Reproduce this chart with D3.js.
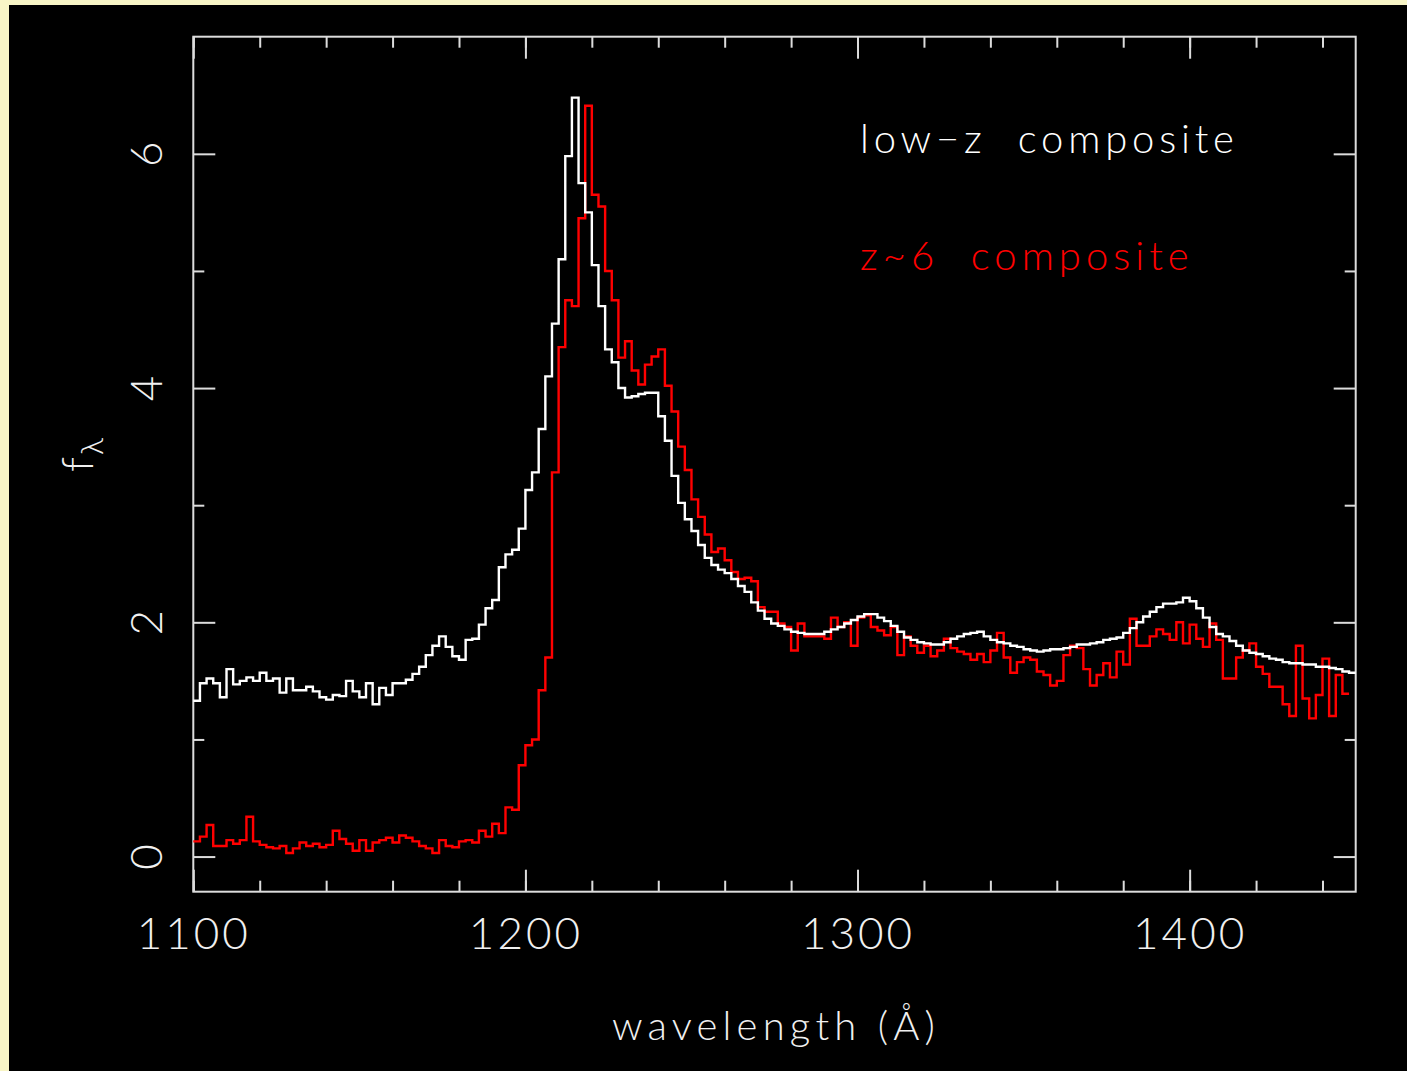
<!DOCTYPE html>
<html>
<head>
<meta charset="utf-8">
<script src="https://cdn.jsdelivr.net/npm/d3@7"></script>
<style>
  html, body { margin: 0; padding: 0; background: #f8f5c6; }
  svg { display: block; }
  text { font-family: "Lato", "DejaVu Sans", sans-serif; font-weight: 300; }
</style>
</head>
<body>
<svg id="chart" width="1407" height="1071"></svg>
<script>
// Spectra binned at 2 Å, first bin starting at 1100 Å
const waveStart = 1100;
const binWidth = 2;

// Low-redshift quasar composite (f_lambda)
const lowzFlux = [
  1.33, 1.48, 1.52, 1.48, 1.36, 1.60, 1.47, 1.50, 1.53, 1.50,
  1.57, 1.50, 1.52, 1.40, 1.52, 1.42, 1.42, 1.45, 1.41, 1.36,
  1.34, 1.38, 1.37, 1.50, 1.41, 1.36, 1.48, 1.30, 1.44, 1.38,
  1.48, 1.48, 1.51, 1.56, 1.62, 1.72, 1.80, 1.88, 1.79, 1.71,
  1.68, 1.85, 1.86, 1.98, 2.12, 2.19, 2.47, 2.58, 2.62, 2.80,
  3.13, 3.28, 3.65, 4.10, 4.55, 5.10, 5.98, 6.48, 5.75, 5.50,
  5.05, 4.70, 4.33, 4.22, 4.00, 3.92, 3.93, 3.95, 3.96, 3.96,
  3.76, 3.55, 3.25, 3.02, 2.88, 2.78, 2.66, 2.55, 2.49, 2.45,
  2.42, 2.37, 2.31, 2.26, 2.17, 2.10, 2.03, 1.99, 1.97, 1.94,
  1.92, 1.91, 1.90, 1.90, 1.90, 1.92, 1.94, 1.96, 1.99, 2.02,
  2.05, 2.07, 2.07, 2.04, 2.01, 1.97, 1.92, 1.87, 1.85, 1.83,
  1.82, 1.81, 1.81, 1.83, 1.86, 1.88, 1.90, 1.91, 1.92, 1.88,
  1.85, 1.83, 1.82, 1.80, 1.79, 1.77, 1.76, 1.75, 1.76, 1.77,
  1.77, 1.78, 1.79, 1.81, 1.81, 1.82, 1.83, 1.85, 1.86, 1.87,
  1.91, 1.95, 2.00, 2.05, 2.09, 2.13, 2.16, 2.16, 2.17, 2.21,
  2.18, 2.12, 2.04, 1.96, 1.90, 1.88, 1.84, 1.80, 1.76, 1.74,
  1.73, 1.71, 1.69, 1.68, 1.66, 1.65, 1.65, 1.64, 1.64, 1.62,
  1.62, 1.61, 1.60, 1.58, 1.57
];

// z~6 quasar composite (f_lambda)
const z6Flux = [
  0.13, 0.17, 0.27, 0.09, 0.09, 0.14, 0.11, 0.14, 0.34, 0.13,
  0.10, 0.08, 0.07, 0.09, 0.03, 0.07, 0.12, 0.09, 0.11, 0.08,
  0.10, 0.22, 0.15, 0.11, 0.05, 0.14, 0.05, 0.12, 0.14, 0.16,
  0.12, 0.18, 0.16, 0.13, 0.09, 0.07, 0.03, 0.14, 0.09, 0.08,
  0.13, 0.14, 0.12, 0.22, 0.17, 0.28, 0.20, 0.42, 0.40, 0.78,
  0.95, 1.00, 1.42, 1.70, 3.28, 4.35, 4.75, 4.70, 5.45, 6.41,
  5.65, 5.55, 5.00, 4.75, 4.26, 4.40, 4.15, 4.03, 4.20, 4.27,
  4.33, 4.02, 3.80, 3.50, 3.30, 3.05, 2.90, 2.75, 2.60, 2.63,
  2.53, 2.43, 2.37, 2.38, 2.35, 2.13, 2.09, 2.09, 1.99, 1.96,
  1.76, 1.99, 1.88, 1.88, 1.88, 1.86, 2.04, 1.96, 2.00, 1.80,
  2.04, 2.06, 1.96, 1.93, 1.89, 1.96, 1.72, 1.88, 1.80, 1.74,
  1.80, 1.71, 1.76, 1.86, 1.78, 1.75, 1.73, 1.68, 1.73, 1.66,
  1.76, 1.91, 1.70, 1.57, 1.66, 1.70, 1.68, 1.58, 1.55, 1.46,
  1.50, 1.72, 1.80, 1.78, 1.60, 1.46, 1.55, 1.65, 1.53, 1.75,
  1.64, 2.03, 1.80, 1.80, 1.88, 1.94, 1.90, 1.85, 2.00, 1.82,
  1.98, 1.86, 1.79, 1.99, 1.85, 1.52, 1.52, 1.70, 1.76, 1.82,
  1.62, 1.56, 1.45, 1.45, 1.30, 1.20, 1.80, 1.35, 1.18, 1.38,
  1.69, 1.20, 1.55, 1.39
];

const xDomain = [1100, 1450];
const yDomain = [-0.3, 7];
const xMajorTicks = [1100, 1200, 1300, 1400];
const xMinorTicks = d3.range(1100, 1451, 20);
const yMajorTicks = [0, 2, 4, 6];
const yMinorTicks = [1, 3, 5];
const legendLabels = ["low\u2212z  composite", "z~6  composite"];
const axisTitleX = "wavelength (\u00C5)";

const W = 1407, H = 1071;
const box = { left: 193.3, right: 1355.7, top: 36.7, bottom: 891.7 };

const svg = d3.select("#chart");

// frame: pale yellow margin on the left and top, black page
svg.append("rect").attr("width", W).attr("height", H).attr("fill", "#f8f5c6");
svg.append("rect").attr("x", 9).attr("y", 5).attr("width", W - 9).attr("height", H - 5).attr("fill", "#000");

const x = d3.scaleLinear().domain(xDomain).range([box.left, box.right]);
const y = d3.scaleLinear().domain(yDomain).range([box.bottom, box.top]);

const axisColor = "#dcdcdc";

function styleAxis(g) {
  g.select(".domain").remove();
  g.selectAll(".tick line").attr("stroke", axisColor).attr("stroke-width", 2);
}

// ticks point inward on all four sides
const major = 22, minor = 11;
svg.append("g").attr("transform", `translate(0,${box.bottom})`)
  .call(d3.axisBottom(x).tickValues(xMinorTicks).tickSize(-minor).tickFormat(""))
  .call(styleAxis);
const xb = svg.append("g").attr("transform", `translate(0,${box.bottom})`)
  .call(d3.axisBottom(x).tickValues(xMajorTicks).tickSize(-major).tickFormat(d3.format("d")))
  .call(styleAxis);
xb.selectAll(".tick text")
  .attr("fill", "#f0f0f0").attr("font-size", 44).attr("letter-spacing", 3)
  .attr("y", 57).attr("dy", 0);

svg.append("g").attr("transform", `translate(0,${box.top})`)
  .call(d3.axisTop(x).tickValues(xMinorTicks).tickSize(-minor).tickFormat(""))
  .call(styleAxis);
svg.append("g").attr("transform", `translate(0,${box.top})`)
  .call(d3.axisTop(x).tickValues(xMajorTicks).tickSize(-major).tickFormat(""))
  .call(styleAxis);

svg.append("g").attr("transform", `translate(${box.left},0)`)
  .call(d3.axisLeft(y).tickValues(yMinorTicks).tickSize(-minor).tickFormat(""))
  .call(styleAxis);
const yl = svg.append("g").attr("transform", `translate(${box.left},0)`)
  .call(d3.axisLeft(y).tickValues(yMajorTicks).tickSize(-major).tickFormat(d3.format("d")))
  .call(styleAxis);
yl.selectAll(".tick text")
  .attr("fill", "#f0f0f0").attr("font-size", 44)
  .attr("x", 0).attr("dy", 0)
  .attr("text-anchor", "middle")
  .attr("transform", "translate(-31,0) rotate(-90)");

svg.append("g").attr("transform", `translate(${box.right},0)`)
  .call(d3.axisRight(y).tickValues(yMinorTicks).tickSize(-minor).tickFormat(""))
  .call(styleAxis);
svg.append("g").attr("transform", `translate(${box.right},0)`)
  .call(d3.axisRight(y).tickValues(yMajorTicks).tickSize(-major).tickFormat(""))
  .call(styleAxis);

// plot frame
svg.append("rect")
  .attr("x", box.left).attr("y", box.top)
  .attr("width", box.right - box.left).attr("height", box.bottom - box.top)
  .attr("fill", "none").attr("stroke", axisColor).attr("stroke-width", 2);

// histogram-style spectra
function binPoints(values) {
  const pts = values.map((v, i) => [waveStart + i * binWidth, v]);
  pts.push([waveStart + values.length * binWidth, values[values.length - 1]]);
  return pts;
}
const line = d3.line()
  .x(d => x(Math.min(d[0], xDomain[1])))
  .y(d => y(d[1]))
  .curve(d3.curveStepAfter);

svg.append("path").datum(binPoints(z6Flux))
  .attr("d", line).attr("fill", "none")
  .attr("stroke", "#ff0000").attr("stroke-width", 2.4).attr("stroke-linejoin", "miter");

svg.append("path").datum(binPoints(lowzFlux))
  .attr("d", line).attr("fill", "none")
  .attr("stroke", "#ffffff").attr("stroke-width", 2.4).attr("stroke-linejoin", "miter");

// legend labels
svg.append("text").attr("x", 860).attr("y", 153)
  .attr("fill", "#ffffff").attr("font-size", 40).attr("letter-spacing", 4.8)
  .style("white-space", "pre")
  .text(legendLabels[0]);
svg.append("text").attr("x", 860).attr("y", 270)
  .attr("fill", "#ff0000").attr("font-size", 40).attr("letter-spacing", 5)
  .style("white-space", "pre")
  .text(legendLabels[1]);

// axis titles
svg.append("text").attr("x", 776).attr("y", 1040)
  .attr("text-anchor", "middle")
  .attr("fill", "#f0f0f0").attr("font-size", 40).attr("letter-spacing", 5.2)
  .text(axisTitleX);

const yTitle = svg.append("text")
  .attr("transform", "translate(93,472) rotate(-90)")
  .attr("fill", "#f0f0f0");
yTitle.append("tspan").attr("font-size", 44).text("f");
yTitle.append("tspan").attr("font-size", 32).attr("dx", 2).attr("dy", 10).text("\u03BB");
</script>
</body>
</html>
